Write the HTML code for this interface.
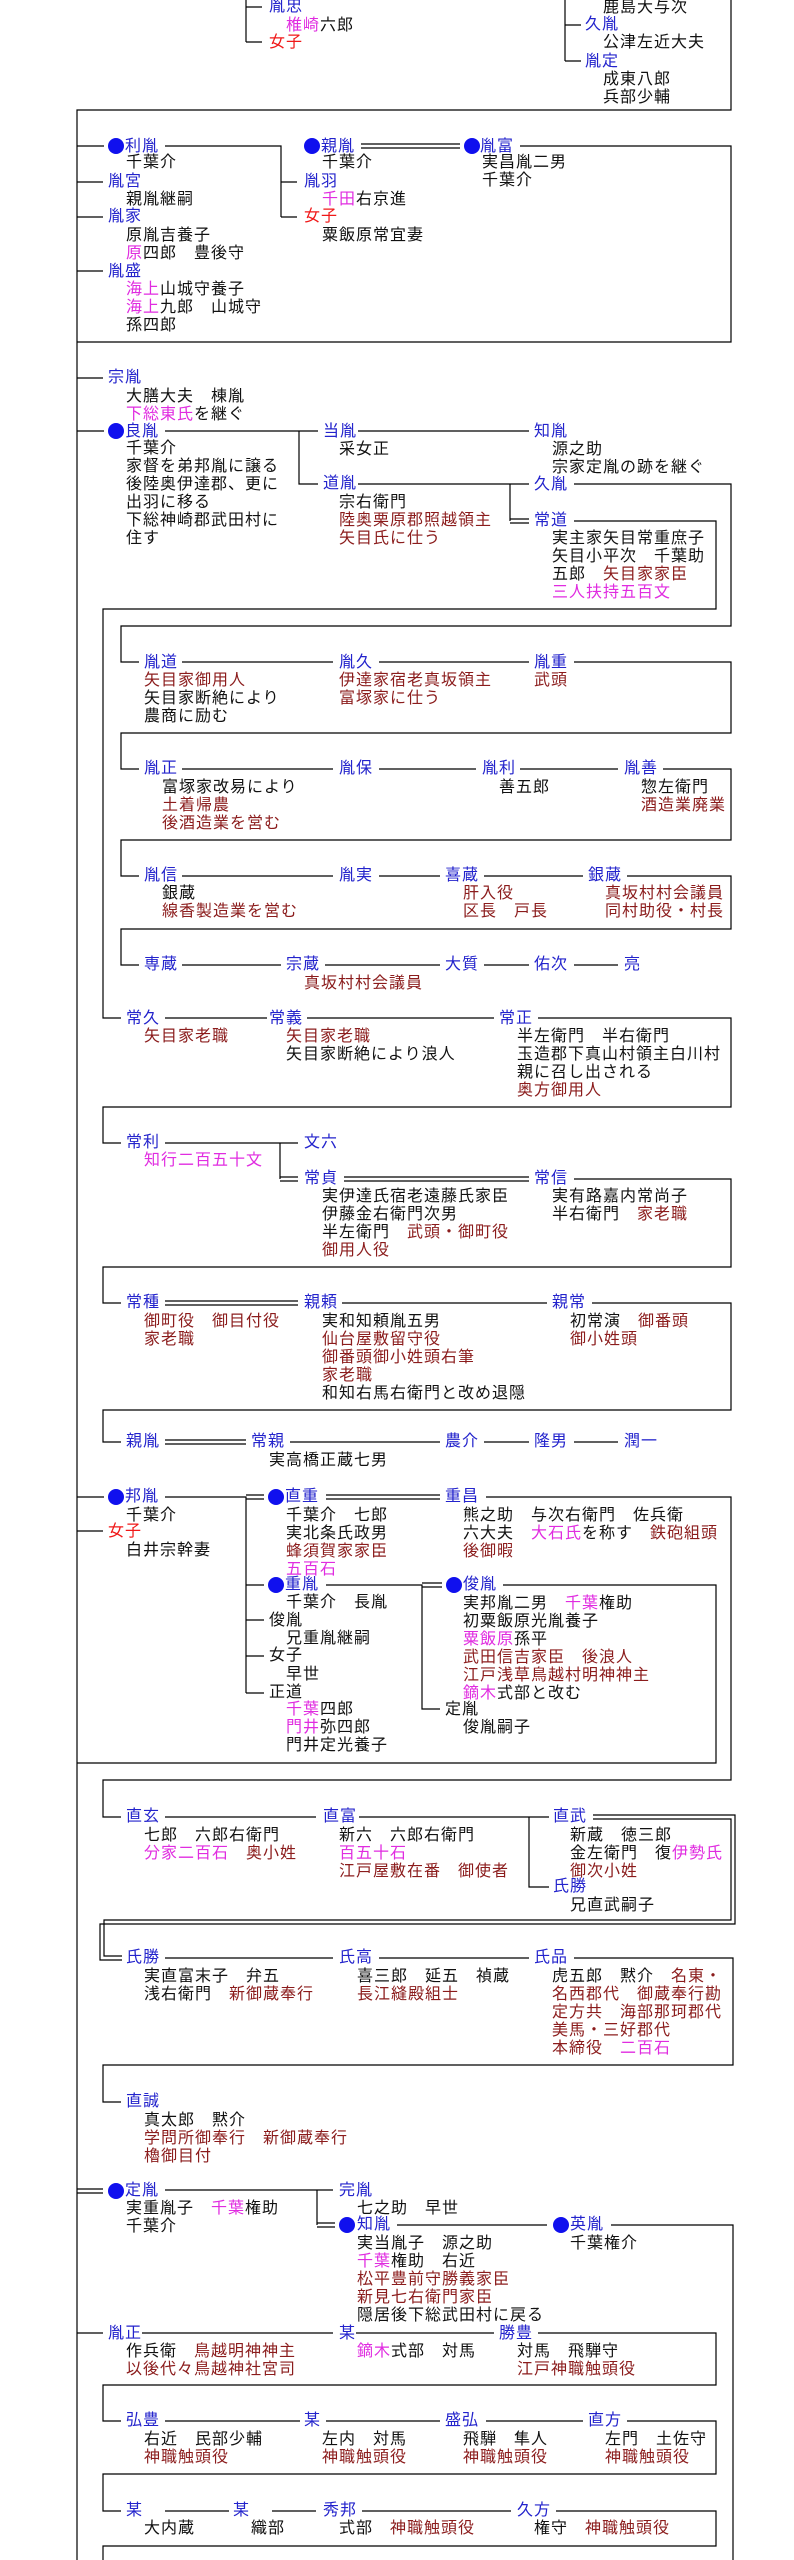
<!DOCTYPE html>
<html><head><meta charset="utf-8">
<style>
html,body{margin:0;padding:0;background:#fff}
body{width:794px;height:2560px;position:relative;overflow:hidden}
.t{position:absolute;white-space:pre;font-size:16px;line-height:18px;letter-spacing:1px;font-family:"Liberation Sans","Noto Sans CJK JP",sans-serif;color:#111}
.b{color:#2323cc}.r{color:#8b1c1c}.m{color:#e02ce0}.e{color:#f01818}
.d{position:absolute;width:16px;height:16px;border-radius:50%;background:#1010ee}
svg{position:absolute;left:0;top:0}
</style></head><body>
<svg width="794" height="2560" fill="none" stroke="#000" stroke-width="1.2">
<path d="M246 0V42M246 7H262M246 42H262"/>
<path d="M565 0V61M565 25H581M565 61H581"/>
<path d="M731 0V110H77V2560"/>
<path d="M77 146H104M165 146H281V217M281 182H297M281 217H297M361 144H460M361 148H460M520 146H731V342H77M77 182H103M77 217H103M77 271H103"/>
<path d="M77 378H103M77 431H104M165 431H318M299 431V484H318M358 431H529M358 484H529M510 484V521M510 519H529M510 523H529"/>
<path d="M574 484H731V626H121V662H139M574 521H716V609H103V1018H121"/>
<path d="M182 662H333M379 662H529M574 662H731V733H121V769H139"/>
<path d="M182 769H333M379 769H476M520 769H618M663 769H731V840H121V876H139"/>
<path d="M182 876H333M379 876H440M484 876H583M627 876H731V929H121V965H139"/>
<path d="M182 965H281M325 965H440M484 965H529M574 965H618"/>
<path d="M165 1018H267M307 1018H494M538 1018H731V1107H103V1143H121"/>
<path d="M165 1143H298M280 1143V1179M280 1177H298M280 1181H298M344 1177H529M344 1181H529M574 1179H731V1267H103V1303H121"/>
<path d="M165 1301H298M165 1305H298M342 1303H547M592 1303H731V1410H103V1442H121"/>
<path d="M165 1440H246M165 1444H246M290 1442H440M484 1442H529M574 1442H618"/>
<path d="M77 1497H104M165 1497H246V1693M246 1495H264M246 1499H264M246 1585H264M246 1620H264M246 1656H264M246 1693H264M326 1495H440M326 1499H440M486 1497H731V1780H103V1817H121M77 1531H103"/>
<path d="M326 1585H422V1709H440M422 1583H442M422 1587H442M503 1585H716V1763H77"/>
<path d="M165 1817H316M359 1817H549M529 1817V1887H549"/>
<path d="M593 1815H735V1924H100V1960H122M593 1819H731V1920H104V1956H122"/>
<path d="M165 1958H333M379 1958H529M574 1958H733V2065H103V2102H121"/>
<path d="M77 2189H103M77 2193H103M165 2190H333M317 2190V2225M317 2223H335M317 2227H335M397 2225H547M611 2225H733V2560"/>
<path d="M77 2333H103M142 2333H333M356 2333H494M538 2333H716V2385H103V2421H121"/>
<path d="M165 2421H300M326 2421H440M486 2421H583M627 2421H716V2474H103V2511H121"/>
<path d="M165 2511H229M272 2511H316M362 2511H511M556 2511H716V2546H103V2560"/>
</svg>

<div class="t b" style="left:269px;top:-2px">胤忠</div>
<div class="t" style="left:286px;top:17px"><span class="m">椎崎</span>六郎</div>
<div class="t e" style="left:269px;top:34px">女子</div>
<div class="t" style="left:603px;top:-1px">鹿島大与次</div>
<div class="t b" style="left:585px;top:16px">久胤</div>
<div class="t" style="left:603px;top:34px">公津左近大夫</div>
<div class="t b" style="left:585px;top:53px">胤定</div>
<div class="t" style="left:603px;top:71px">成東八郎<br>兵部少輔</div>

<div class="d" style="left:108px;top:138px"></div>
<div class="t b" style="left:125px;top:138px">利胤</div>
<div class="t" style="left:126px;top:154px">千葉介</div>
<div class="t b" style="left:108px;top:173px">胤宮</div>
<div class="t" style="left:126px;top:191px">親胤継嗣</div>
<div class="t b" style="left:108px;top:208px">胤家</div>
<div class="t" style="left:126px;top:227px">原胤吉養子<br><span class="m">原</span>四郎　豊後守</div>
<div class="t b" style="left:108px;top:263px">胤盛</div>
<div class="t" style="left:126px;top:281px"><span class="m">海上</span>山城守養子<br><span class="m">海上</span>九郎　山城守<br>孫四郎</div>
<div class="d" style="left:304px;top:138px"></div>
<div class="t b" style="left:321px;top:138px">親胤</div>
<div class="t" style="left:322px;top:154px">千葉介</div>
<div class="t b" style="left:304px;top:173px">胤羽</div>
<div class="t" style="left:322px;top:191px"><span class="m">千田</span>右京進</div>
<div class="t e" style="left:304px;top:208px">女子</div>
<div class="t" style="left:322px;top:227px">粟飯原常宜妻</div>
<div class="d" style="left:464px;top:138px"></div>
<div class="t b" style="left:480px;top:138px">胤富</div>
<div class="t" style="left:482px;top:154px">実昌胤二男<br>千葉介</div>

<div class="t b" style="left:108px;top:369px">宗胤</div>
<div class="t" style="left:126px;top:388px">大膳大夫　棟胤<br><span class="m">下総東氏</span>を継ぐ</div>
<div class="d" style="left:108px;top:423px"></div>
<div class="t b" style="left:125px;top:423px">良胤</div>
<div class="t" style="left:126px;top:440px">千葉介<br>家督を弟邦胤に譲る<br>後陸奥伊達郡、更に<br>出羽に移る<br>下総神崎郡武田村に<br>住す</div>
<div class="t b" style="left:323px;top:423px">当胤</div>
<div class="t" style="left:339px;top:441px">采女正</div>
<div class="t b" style="left:534px;top:423px">知胤</div>
<div class="t" style="left:552px;top:441px">源之助<br>宗家定胤の跡を継ぐ</div>
<div class="t b" style="left:323px;top:475px">道胤</div>
<div class="t" style="left:339px;top:494px">宗右衛門<br><span class="r">陸奥栗原郡照越領主</span><br><span class="r">矢目氏に仕う</span></div>
<div class="t b" style="left:534px;top:476px">久胤</div>
<div class="t b" style="left:534px;top:512px">常道</div>
<div class="t" style="left:552px;top:530px">実主家矢目常重庶子<br>矢目小平次　千葉助<br>五郎　<span class="r">矢目家家臣</span><br><span class="m">三人扶持五百文</span></div>

<div class="t b" style="left:144px;top:654px">胤道</div>
<div class="t" style="left:144px;top:672px"><span class="r">矢目家御用人</span><br>矢目家断絶により<br>農商に励む</div>
<div class="t b" style="left:339px;top:654px">胤久</div>
<div class="t r" style="left:339px;top:672px">伊達家宿老真坂領主<br>富塚家に仕う</div>
<div class="t b" style="left:534px;top:654px">胤重</div>
<div class="t r" style="left:534px;top:672px">武頭</div>

<div class="t b" style="left:144px;top:760px">胤正</div>
<div class="t" style="left:162px;top:779px">富塚家改易により<br><span class="r">土着帰農</span><br><span class="r">後酒造業を営む</span></div>
<div class="t b" style="left:339px;top:760px">胤保</div>
<div class="t b" style="left:482px;top:760px">胤利</div>
<div class="t" style="left:499px;top:779px">善五郎</div>
<div class="t b" style="left:624px;top:760px">胤善</div>
<div class="t" style="left:641px;top:779px">惣左衛門<br><span class="r">酒造業廃業</span></div>

<div class="t b" style="left:144px;top:867px">胤信</div>
<div class="t" style="left:162px;top:885px">銀蔵<br><span class="r">線香製造業を営む</span></div>
<div class="t b" style="left:339px;top:867px">胤実</div>
<div class="t b" style="left:445px;top:867px">喜蔵</div>
<div class="t r" style="left:463px;top:885px">肝入役<br>区長　戸長</div>
<div class="t b" style="left:588px;top:867px">銀蔵</div>
<div class="t r" style="left:605px;top:885px">真坂村村会議員<br>同村助役・村長</div>

<div class="t b" style="left:144px;top:956px">専蔵</div>
<div class="t b" style="left:286px;top:956px">宗蔵</div>
<div class="t r" style="left:304px;top:975px">真坂村村会議員</div>
<div class="t b" style="left:445px;top:956px">大質</div>
<div class="t b" style="left:534px;top:956px">佑次</div>
<div class="t b" style="left:624px;top:956px">亮</div>

<div class="t b" style="left:126px;top:1010px">常久</div>
<div class="t r" style="left:144px;top:1028px">矢目家老職</div>
<div class="t b" style="left:269px;top:1010px">常義</div>
<div class="t" style="left:286px;top:1028px"><span class="r">矢目家老職</span><br>矢目家断絶により浪人</div>
<div class="t b" style="left:499px;top:1010px">常正</div>
<div class="t" style="left:517px;top:1028px">半左衛門　半右衛門<br>玉造郡下真山村領主白川村<br>親に召し出される<br><span class="r">奥方御用人</span></div>

<div class="t b" style="left:126px;top:1134px">常利</div>
<div class="t m" style="left:144px;top:1152px">知行二百五十文</div>
<div class="t b" style="left:304px;top:1134px">文六</div>
<div class="t b" style="left:304px;top:1170px">常貞</div>
<div class="t" style="left:322px;top:1188px">実伊達氏宿老遠藤氏家臣<br>伊藤金右衛門次男<br>半左衛門　<span class="r">武頭・御町役</span><br><span class="r">御用人役</span></div>
<div class="t b" style="left:534px;top:1170px">常信</div>
<div class="t" style="left:552px;top:1188px">実有路嘉内常尚子<br>半右衛門　<span class="r">家老職</span></div>

<div class="t b" style="left:126px;top:1294px">常種</div>
<div class="t r" style="left:144px;top:1313px">御町役　御目付役<br>家老職</div>
<div class="t b" style="left:304px;top:1294px">親頼</div>
<div class="t" style="left:322px;top:1313px">実和知頼胤五男<br><span class="r">仙台屋敷留守役</span><br><span class="r">御番頭御小姓頭右筆</span><br><span class="r">家老職</span><br>和知右馬右衛門と改め退隠</div>
<div class="t b" style="left:552px;top:1294px">親常</div>
<div class="t" style="left:570px;top:1313px">初常演　<span class="r">御番頭</span><br><span class="r">御小姓頭</span></div>

<div class="t b" style="left:126px;top:1433px">親胤</div>
<div class="t b" style="left:251px;top:1433px">常親</div>
<div class="t" style="left:269px;top:1452px">実高橋正蔵七男</div>
<div class="t b" style="left:445px;top:1433px">農介</div>
<div class="t b" style="left:534px;top:1433px">隆男</div>
<div class="t b" style="left:624px;top:1433px">潤一</div>

<div class="d" style="left:108px;top:1489px"></div>
<div class="t b" style="left:125px;top:1488px">邦胤</div>
<div class="t" style="left:126px;top:1507px">千葉介</div>
<div class="t e" style="left:108px;top:1523px">女子</div>
<div class="t" style="left:126px;top:1542px">白井宗幹妻</div>
<div class="d" style="left:268px;top:1489px"></div>
<div class="t b" style="left:285px;top:1488px">直重</div>
<div class="t" style="left:286px;top:1507px">千葉介　七郎<br>実北条氏政男<br><span class="r">蜂須賀家家臣</span><br><span class="m">五百石</span></div>
<div class="t b" style="left:445px;top:1488px">重昌</div>
<div class="t" style="left:463px;top:1507px">熊之助　与次右衛門　佐兵衛<br>六大夫　<span class="m">大石氏</span>を称す　<span class="r">鉄砲組頭</span><br><span class="r">後御暇</span></div>

<div class="d" style="left:268px;top:1577px"></div>
<div class="t b" style="left:285px;top:1576px">重胤</div>
<div class="t" style="left:286px;top:1594px">千葉介　長胤</div>
<div class="t" style="left:269px;top:1612px">俊胤</div>
<div class="t" style="left:286px;top:1630px">兄重胤継嗣</div>
<div class="t" style="left:269px;top:1647px">女子</div>
<div class="t" style="left:286px;top:1666px">早世</div>
<div class="t" style="left:269px;top:1684px">正道</div>
<div class="t" style="left:286px;top:1701px"><span class="m">千葉</span>四郎<br><span class="m">門井</span>弥四郎<br>門井定光養子</div>
<div class="d" style="left:446px;top:1577px"></div>
<div class="t b" style="left:463px;top:1576px">俊胤</div>
<div class="t" style="left:463px;top:1595px">実邦胤二男　<span class="m">千葉</span>権助<br>初粟飯原光胤養子<br><span class="m">粟飯原</span>孫平<br><span class="r">武田信吉家臣　後浪人</span><br><span class="r">江戸浅草鳥越村明神神主</span><br><span class="m">鏑木</span>式部と改む</div>
<div class="t" style="left:445px;top:1701px">定胤</div>
<div class="t" style="left:463px;top:1719px">俊胤嗣子</div>

<div class="t b" style="left:126px;top:1808px">直玄</div>
<div class="t" style="left:144px;top:1827px">七郎　六郎右衛門<br><span class="m">分家二百石</span>　<span class="r">奥小姓</span></div>
<div class="t b" style="left:323px;top:1808px">直富</div>
<div class="t" style="left:339px;top:1827px">新六　六郎右衛門<br><span class="m">百五十石</span><br><span class="r">江戸屋敷在番　御使者</span></div>
<div class="t b" style="left:553px;top:1808px">直武</div>
<div class="t" style="left:570px;top:1827px">新蔵　徳三郎<br>金左衛門　復<span class="m">伊勢氏</span><br><span class="r">御次小姓</span></div>
<div class="t b" style="left:553px;top:1878px">氏勝</div>
<div class="t" style="left:570px;top:1897px">兄直武嗣子</div>

<div class="t b" style="left:126px;top:1949px">氏勝</div>
<div class="t" style="left:144px;top:1968px">実直富末子　弁五<br>浅右衛門　<span class="r">新御蔵奉行</span></div>
<div class="t b" style="left:339px;top:1949px">氏高</div>
<div class="t" style="left:357px;top:1968px">喜三郎　延五　禎蔵<br><span class="r">長江縫殿組士</span></div>
<div class="t b" style="left:534px;top:1949px">氏品</div>
<div class="t" style="left:552px;top:1968px">虎五郎　黙介　<span class="r">名東・</span><br><span class="r">名西郡代　御蔵奉行勘</span><br><span class="r">定方共　海部那珂郡代</span><br><span class="r">美馬・三好郡代</span><br><span class="r">本締役</span>　<span class="m">二百石</span></div>

<div class="t b" style="left:126px;top:2093px">直誠</div>
<div class="t" style="left:144px;top:2112px">真太郎　黙介<br><span class="r">学問所御奉行　新御蔵奉行</span><br><span class="r">櫓御目付</span></div>

<div class="d" style="left:108px;top:2183px"></div>
<div class="t b" style="left:125px;top:2182px">定胤</div>
<div class="t" style="left:126px;top:2200px">実重胤子　<span class="m">千葉</span>権助<br>千葉介</div>
<div class="t b" style="left:339px;top:2182px">完胤</div>
<div class="t" style="left:357px;top:2200px">七之助　早世</div>
<div class="d" style="left:339px;top:2217px"></div>
<div class="t b" style="left:357px;top:2216px">知胤</div>
<div class="t" style="left:357px;top:2235px">実当胤子　源之助<br><span class="m">千葉</span>権助　右近<br><span class="r">松平豊前守勝義家臣</span><br><span class="r">新見七右衛門家臣</span><br>隠居後下総武田村に戻る</div>
<div class="d" style="left:553px;top:2217px"></div>
<div class="t b" style="left:570px;top:2216px">英胤</div>
<div class="t" style="left:570px;top:2235px">千葉権介</div>

<div class="t b" style="left:108px;top:2325px">胤正</div>
<div class="t" style="left:126px;top:2343px">作兵衛　<span class="r">鳥越明神神主</span><br><span class="r">以後代々鳥越神社宮司</span></div>
<div class="t b" style="left:339px;top:2325px">某</div>
<div class="t" style="left:357px;top:2343px"><span class="m">鏑木</span>式部　対馬</div>
<div class="t b" style="left:499px;top:2325px">勝豊</div>
<div class="t" style="left:517px;top:2343px">対馬　飛騨守<br><span class="r">江戸神職触頭役</span></div>

<div class="t b" style="left:126px;top:2412px">弘豊</div>
<div class="t" style="left:144px;top:2431px">右近　民部少輔<br><span class="r">神職触頭役</span></div>
<div class="t b" style="left:304px;top:2412px">某</div>
<div class="t" style="left:322px;top:2431px">左内　対馬<br><span class="r">神職触頭役</span></div>
<div class="t b" style="left:445px;top:2412px">盛弘</div>
<div class="t" style="left:463px;top:2431px">飛騨　隼人<br><span class="r">神職触頭役</span></div>
<div class="t b" style="left:588px;top:2412px">直方</div>
<div class="t" style="left:605px;top:2431px">左門　土佐守<br><span class="r">神職触頭役</span></div>

<div class="t b" style="left:126px;top:2502px">某</div>
<div class="t" style="left:144px;top:2520px">大内蔵</div>
<div class="t b" style="left:233px;top:2502px">某</div>
<div class="t" style="left:251px;top:2520px">織部</div>
<div class="t b" style="left:323px;top:2502px">秀邦</div>
<div class="t" style="left:339px;top:2520px">式部　<span class="r">神職触頭役</span></div>
<div class="t b" style="left:517px;top:2502px">久方</div>
<div class="t" style="left:534px;top:2520px">権守　<span class="r">神職触頭役</span></div>
</body></html>
